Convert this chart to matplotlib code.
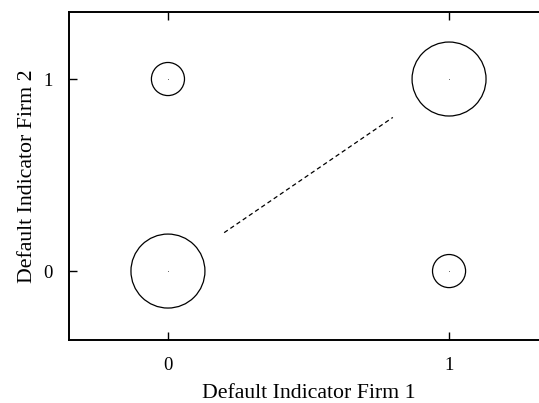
import matplotlib
matplotlib.use("Agg")
import matplotlib.pyplot as plt
import numpy as np

# joint default indicators and their probabilities
firm1 = [0, 0, 1, 1]
firm2 = [0, 1, 0, 1]
prob = [5 / 12, 1 / 12, 1 / 12, 5 / 12]

# regression line endpoints
line_x = [0.2, 0.8]
line_y = [0.2, 0.8]

ticks = [0, 1]

plt.rcParams["font.family"] = ["Liberation Serif", "DejaVu Serif"]

fig = plt.figure(figsize=(5.39, 4.03), dpi=100)
ax = fig.add_axes([69 / 539, 63 / 403, 479 / 539, 328 / 403])

# marker radius in points proportional to sqrt(prob)
r_px = 57.3 * np.sqrt(prob)
sizes = (2 * r_px * 72 / 100) ** 2
ax.scatter(firm1, firm2, s=sizes, facecolors="none", edgecolors="black",
           linewidths=0.9, zorder=3)
ax.scatter(firm1, firm2, s=0.3, color="#333333", linewidths=0, zorder=4)
ax.plot(line_x, line_y, "k--", lw=0.9, dashes=(3.5, 2.5))

ax.set_xlim(-0.352, 1.352)
ax.set_ylim(-0.359, 1.349)
ax.set_xticks(ticks)
ax.set_yticks(ticks)
ax.tick_params(direction="in", top=True, right=True, length=6,
               labelsize=13.5, width=1, pad=12)
for s in ax.spines.values():
    s.set_linewidth(1.4)

ax.set_xlabel("Default Indicator Firm 1", fontsize=15.7, labelpad=7.5)
ax.set_ylabel("Default Indicator Firm 2", fontsize=15.7, labelpad=4)

fig.savefig("out.png", dpi=100)
